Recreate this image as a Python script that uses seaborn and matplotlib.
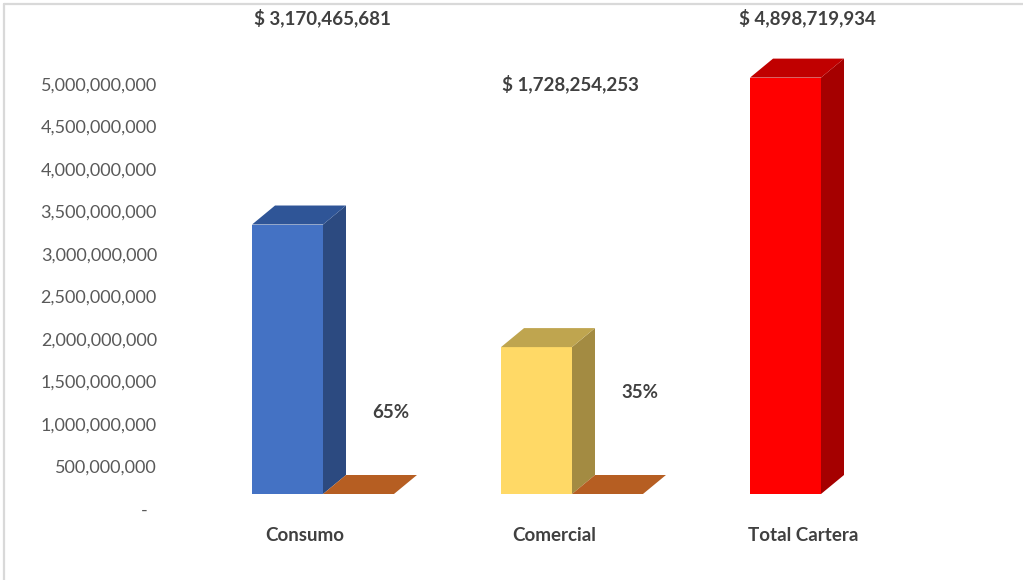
import matplotlib as mpl
import matplotlib.pyplot as plt
import seaborn as sns
import pandas as pd
from matplotlib.patches import Polygon
from matplotlib.ticker import FuncFormatter
from matplotlib.transforms import ScaledTranslation

categories = ["Consumo", "Comercial", "Total Cartera"]
valores = [3170465681, 1728254253, 4898719934]
porcentajes = [0.65, 0.35, 0.0]
pct_labels = ["65%", "35%", ""]
valor_labels = ["$ 3,170,465,681", "$ 1,728,254,253", "$ 4,898,719,934"]
yticks = [0, 500000000, 1000000000, 1500000000, 2000000000, 2500000000,
          3000000000, 3500000000, 4000000000, 4500000000, 5000000000]

# colours: front, side, top
front_cols = ["#4472C4", "#FFD966", "#FF0000"]
side_cols = ["#2C4A80", "#A38B42", "#A50000"]
top_cols = ["#2F5597", "#BFA54F", "#C00000"]
orange_top = "#B65E22"

sns.set_theme(style="white")
plt.rcParams["font.family"] = ["Lato", "DejaVu Sans"]

W, H = 1023, 580
fig = plt.figure(figsize=(W / 100, H / 100), dpi=100)

# axes geometry in pixels (from top-left)
x_c0, x_step = 323, 249      # group centre of first category, px per category
y_zero, y_per = 494, 85e-9   # px of value 0, px per unit
ax_l, ax_r, ax_t = 170, 1000, 10
ax = fig.add_axes([ax_l / W, (H - y_zero) / H, (ax_r - ax_l) / W, (y_zero - ax_t) / H])

df = pd.DataFrame({
    "cat": categories * 2,
    "valor": valores + porcentajes,
    "serie": ["Valor"] * 3 + ["Porcentaje"] * 3,
})
sns.barplot(data=df, x="cat", y="valor", hue="serie", width=0.57,
            palette=["#4472C4", orange_top], ax=ax, legend=False, saturation=1)

ax.set_xlim((ax_l - x_c0) / x_step, (ax_r - x_c0) / x_step)
ax.set_ylim(0, (y_zero - ax_t) / y_per)

# depth of the 3d look in data units
dx = 23 / x_step
dy = 19 / y_per

bars = ax.patches
for i, p in enumerate(bars):
    x0, w, h = p.get_x(), p.get_width(), p.get_height()
    x1 = x0 + w
    if i < 3:
        if h <= 0:
            continue
        p.set_facecolor(front_cols[i])
        p.set_edgecolor("none")
        ax.add_patch(Polygon([(x1, 0), (x1, h), (x1 + dx, h + dy), (x1 + dx, dy)],
                             closed=True, facecolor=side_cols[i], edgecolor="none"))
        ax.add_patch(Polygon([(x0, h), (x1, h), (x1 + dx, h + dy), (x0 + dx, h + dy)],
                             closed=True, facecolor=top_cols[i], edgecolor="none"))
    else:
        j = i - 3
        p.set_visible(False)
        if not pct_labels[j]:
            continue
        ax.add_patch(Polygon([(x0, h), (x1, h), (x1 + dx, h + dy), (x0 + dx, h + dy)],
                             closed=True, facecolor=orange_top, edgecolor="none"))

# labels
pct_y = [413, 393]
for j, lab in enumerate(pct_labels):
    if not lab:
        continue
    p = bars[3 + j]
    xc = p.get_x() + p.get_width() / 2 + 32 / x_step
    ax.text(xc, (y_zero - pct_y[j]) / y_per, lab, ha="center", va="center",
            fontsize=13.5, fontweight="bold", color="#404040", zorder=10)

val_y = [18, 84, 18]
val_x = [322, 570, 807]
for j, lab in enumerate(valor_labels):
    fig.text(val_x[j] / W, 1 - val_y[j] / H, lab, ha="center", va="center",
             fontsize=13.5, fontweight="bold", color="#404040")

ax.set_yticks(yticks)
ax.yaxis.set_major_formatter(FuncFormatter(lambda v, _: "-  " if v == 0 else f"{v:,.0f}"))
ax.tick_params(axis="y", length=0, pad=9.4, labelsize=13, labelcolor="#595959")
ax.tick_params(axis="x", length=0, pad=24, labelsize=13.5, labelcolor="#404040")
for t in ax.get_xticklabels():
    t.set_fontweight("bold")
    t.set_transform(t.get_transform() + ScaledTranslation(-0.18, 0, fig.dpi_scale_trans))
for t in ax.get_yticklabels():
    t.set_transform(t.get_transform() + ScaledTranslation(0, -0.15, fig.dpi_scale_trans))
ax.set_xlabel("")
ax.set_ylabel("")
sns.despine(ax=ax, left=True, bottom=True)

# outer chart border (left and top visible)
fig.add_artist(mpl.lines.Line2D([4 / W, 4 / W], [0, 1 - 4 / H], color="#D9D9D9", lw=1.6))
fig.add_artist(mpl.lines.Line2D([4 / W, 1], [1 - 4 / H, 1 - 4 / H], color="#D9D9D9", lw=1.6))

fig.savefig("out.png", dpi=100)
